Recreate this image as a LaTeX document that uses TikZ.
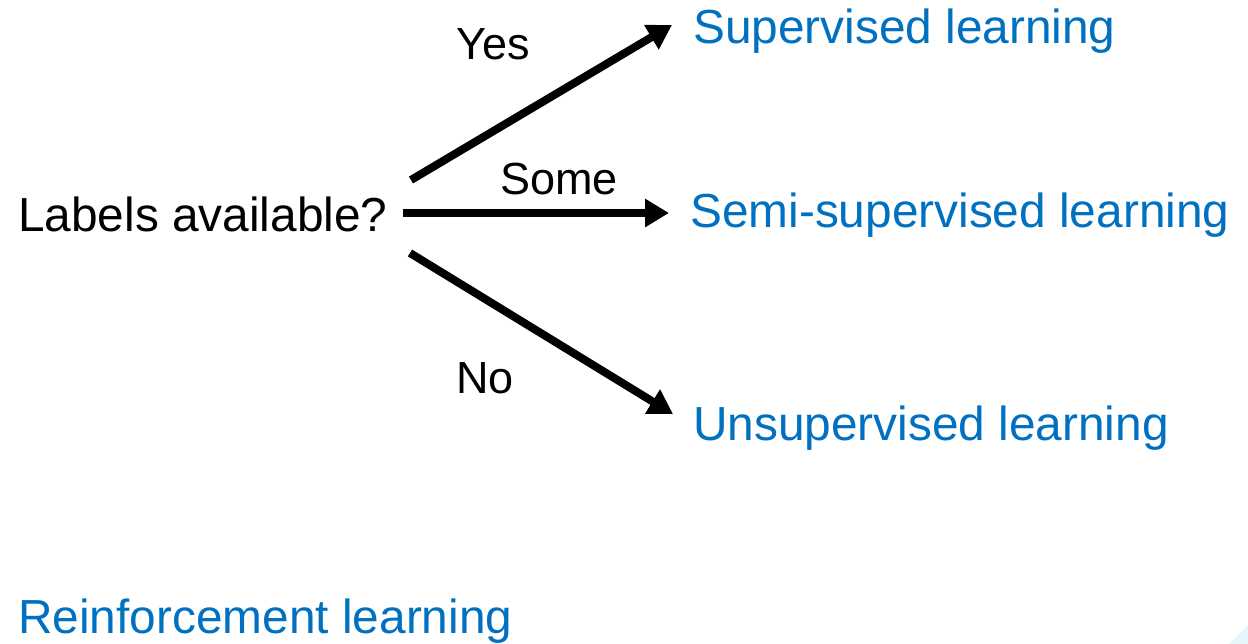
\documentclass[tikz,border=0pt]{standalone}
\usepackage{fontspec}
\setmainfont{Liberation Sans}
\usetikzlibrary{arrows.meta}
\definecolor{mlblue}{HTML}{0070C0}
\definecolor{corner}{HTML}{E6F6FB}
\begin{document}
\begin{tikzpicture}[x=1pt,y=-1pt,
  main/.style={anchor=base west,inner sep=0pt,font=\fontsize{47.8}{56}\selectfont},
  method/.style={main,text=mlblue},
  edgelab/.style={anchor=base,inner sep=0pt,font=\fontsize{45}{52}\selectfont},
  arr/.style={line width=8pt,-{Triangle[length=24pt,width=27pt]}}]
\useasboundingbox[fill=white] (0,0) rectangle (1248,644);
\fill[corner] (1229,644) -- (1248,625) -- (1248,644) -- cycle;
\node[main] (q) at (18,232) {Labels available?};
\node[method] (sup) at (693,44) {Supervised learning};
\node[method] (semi) at (690,228) {Semi-supervised learning};
\node[method] (uns) at (693,440) {Unsupervised learning};
\node[method] (rl) at (18,633) {Reinforcement learning};
\coordinate (ys) at (411,180);
\coordinate (ye) at (672,25);
\coordinate (ss) at (403,213);
\coordinate (se) at (669,213);
\coordinate (ns) at (410,253);
\coordinate (ne) at (673,414);
\draw[arr] (ys) -- (ye);
\draw[arr] (ss) -- (se);
\draw[arr] (ns) -- (ne);
\node[edgelab] (yes) at (493,60) {Yes};
\node[edgelab] (some) at (559,195) {Some};
\node[edgelab] (no) at (485,393) {No};
\end{tikzpicture}
\end{document}
